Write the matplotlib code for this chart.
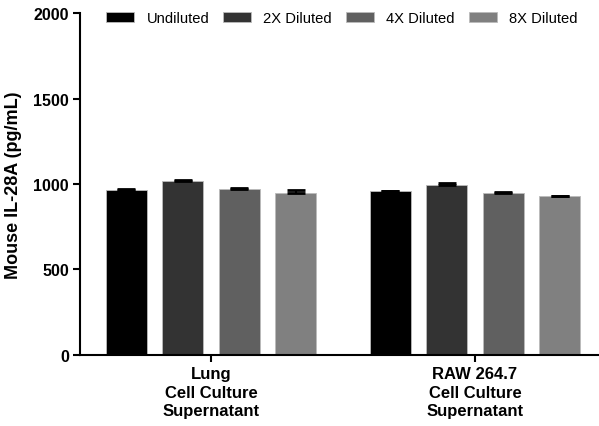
import matplotlib
matplotlib.use("Agg")
import matplotlib.pyplot as plt
import numpy as np

plt.rcParams['font.family'] = ['Liberation Sans', 'DejaVu Sans']

groups = ["Lung\nCell Culture\nSupernatant", "RAW 264.7\nCell Culture\nSupernatant"]
series = ["Undiluted", "2X Diluted", "4X Diluted", "8X Diluted"]
values = [[967, 1019, 971, 947],
          [957, 996, 946, 928]]
errors = [[2, 4, 7, 20],
          [2, 11, 6, 4]]
colors = ["#000000", "#333333", "#606060", "#808080"]
yticks = [0, 500, 1000, 1500, 2000]

fig = plt.figure(figsize=(5.99, 4.27), dpi=100)
ax = fig.add_axes([0.1336, 0.1663, 0.8664, 0.8009])

x = np.arange(len(groups))
spacing = 0.214
width = 0.156
vals = np.array(values)
errs = np.array(errors)
for i, s in enumerate(series):
    pos = x + (i - 1.5) * spacing
    ax.bar(pos, vals[:, i], width, color=colors[i], edgecolor='#bbbbbb', linewidth=0.6,
           label=s, zorder=2)
    ax.errorbar(pos, vals[:, i], yerr=[np.zeros_like(errs[:, i]), errs[:, i]], fmt='none',
                ecolor='black', elinewidth=1.5, capsize=6.5, capthick=2, zorder=3)

ax.set_xlim(-0.496, 1.47)
ax.set_ylim(0, 2000)
ax.set_yticks(yticks)
ax.set_yticklabels([str(t) for t in yticks], fontweight='bold', fontsize=11.5)
ax.set_xticks(x)
ax.set_xticklabels(groups, fontweight='bold', fontsize=12, linespacing=1.3)
ax.set_ylabel("Mouse IL-28A (pg/mL)", fontweight='bold', fontsize=13, labelpad=8)

for sp in ['top', 'right']:
    ax.spines[sp].set_visible(False)
for sp in ['left', 'bottom']:
    ax.spines[sp].set_linewidth(1.5)
ax.tick_params(axis='both', width=1.5, length=5, direction='out', pad=3)

leg = ax.legend(loc='upper left', ncol=4, frameon=False, fontsize=10.6,
                bbox_to_anchor=(0.0396, 1.023), handlelength=1.9, handleheight=0.68,
                columnspacing=0.96, handletextpad=0.82, borderaxespad=0)

fig.savefig("out.png", dpi=100)
